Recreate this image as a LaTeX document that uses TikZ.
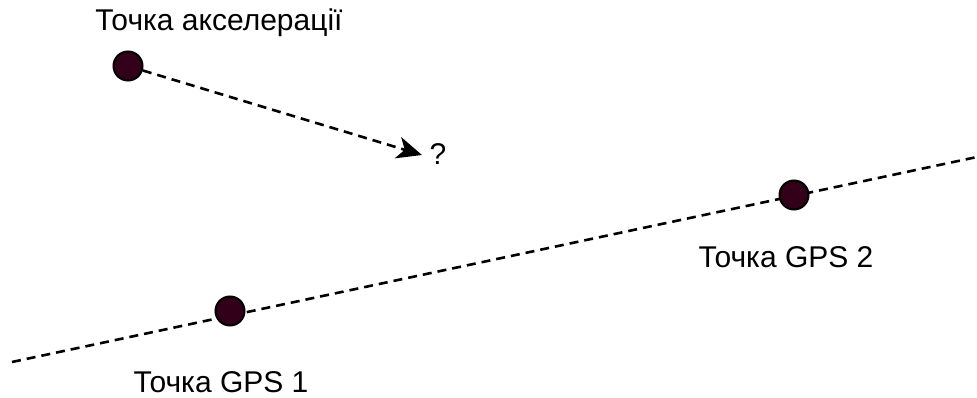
\documentclass[tikz,border=0pt]{standalone}
\usepackage{fontspec}
\setmainfont{Liberation Sans}
\usetikzlibrary{arrows.meta}
\definecolor{pointfill}{HTML}{33001A}

\begin{document}
\begin{tikzpicture}[
    x=1pt,y=-1pt,
    font=\fontsize{30}{33}\selectfont,
    point/.style={circle,draw=black,line width=2pt,fill=pointfill,
        minimum size=29pt,inner sep=0pt},
    label/.style={anchor=base,inner sep=0pt},
    track/.style={line width=2.6pt,dash pattern=on 9pt off 6pt},
    guess/.style={anchor=base,inner sep=0pt}
]

\useasboundingbox (0,0) rectangle (977,398);

% GPS line
\coordinate (trackL) at (12,362);
\coordinate (trackR) at (977,157);

\draw[track] (trackL) -- (trackR);

\node[point] (gpsA) at (230,311) {};
\node[point] (gpsB) at (794,195) {};

\node[label] (gpsAtext) at (221,392) {Точка GPS 1};
\node[label] (gpsBtext) at (786,267) {Точка GPS 2};

% Acceleration point
\node[point] (acc) at (128,66) {};

\node[label] (acctext) at (219,31) {Точка акселерації};

\coordinate (accTip) at (422,155);

\draw[track,-{Stealth[length=25pt,width=22pt,inset=7pt]}]
    (acc) -- (accTip);

\node[guess] (question) at (438,165) {?};

\end{tikzpicture}
\end{document}
